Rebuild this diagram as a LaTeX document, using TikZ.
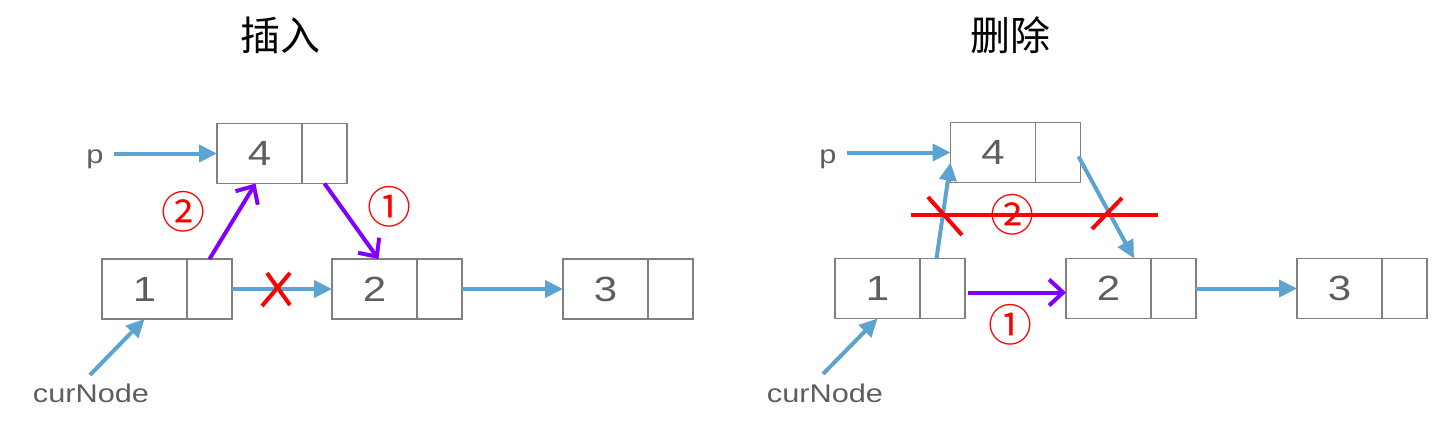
\documentclass[tikz,border=0pt]{standalone}
\usepackage{fontspec}
\setmainfont[FakeStretch=1.2]{Liberation Sans}
\newfontfamily\cjk{Noto Sans CJK SC}
\usetikzlibrary{arrows.meta,calc}
\definecolor{lblue}{HTML}{5DA3CF}
\definecolor{vio}{HTML}{7F00FF}
\definecolor{boxgray}{HTML}{808080}
\definecolor{txtgray}{HTML}{5E5E5E}
\tikzset{
 cell/.style={draw=boxgray, line width=1.8pt, minimum height=60pt, inner sep=0pt, outer sep=0pt, text=txtgray, font=\fontsize{35}{35}\selectfont},
 dcell/.style={cell, minimum width=85pt},
 pcell/.style={cell, minimum width=45pt},
 lab/.style={text=txtgray, font=\fontsize{25.6}{26}\selectfont, inner sep=0pt, anchor=base},
 blu/.style={draw=lblue, line width=4pt, -{Triangle[length=18pt,width=17pt]}},
 pur/.style={draw=vio, line width=4pt, -{Straight Barb[length=14pt,width=26pt]}},
 redl/.style={draw=red, line width=4pt},
 num/.style={text=red, font=\cjk\fontsize{44}{44}\selectfont, inner sep=0pt},
 ttl/.style={font=\cjk\fontsize{40}{40}\selectfont, inner sep=0pt},
}
\begin{document}
\begin{tikzpicture}[x=1pt,y=-1pt]
\useasboundingbox (0,0) rectangle (1450,431);
% ---------- left: insert ----------
\node[ttl] (t1) at (280,35) {插入};
\node[dcell] (L4d) at (259.5,153.5) {4};
\node[pcell,anchor=west] (L4p) at (L4d.east) {};
\node[dcell] (L1d) at (144.5,289) {1};
\node[pcell,anchor=west] (L1p) at (L1d.east) {};
\node[dcell] (L2d) at (374.5,289) {2};
\node[pcell,anchor=west] (L2p) at (L2d.east) {};
\node[dcell] (L3d) at (605.5,289) {3};
\node[pcell,anchor=west] (L3p) at (L3d.east) {};
\node[lab] (Lp) at (95,163) {p};
\node[lab] (Lcur) at (91,402) {curNode};
\coordinate (Lps) at (114,153.5);
\coordinate (Lcs) at (90,375);
\draw[blu] (Lps) -- (L4d.west);
\draw[blu] (Lcs) -- (L1d.south);
\draw[blu] (L1p.east) -- (L2d.west);
\draw[blu] (L2p.east) -- (L3d.west);
\draw[pur] (L1p.north) -- ($(L4d.south)+(-4,0)$);
\draw[pur] (L4p.south) -- ($(L2d.north)+(4,0)$);
\coordinate (Lx) at (277,289);
\draw[redl] ($(Lx)+(-10,-16)$) -- ($(Lx)+(13,16)$);
\draw[redl] ($(Lx)+(13,-16)$) -- ($(Lx)+(-15,17)$);
\node[num] (Ln2) at (183,212) {②};
\node[num] (Ln1) at (389,207) {①};
% ---------- right: delete ----------
\node[ttl] (t2) at (1010,35) {删除};
\node[dcell] (R4d) at (993,152.5) {4};
\node[pcell,anchor=west] (R4p) at (R4d.east) {};
\node[dcell] (R1d) at (877.5,288.5) {1};
\node[pcell,anchor=west] (R1p) at (R1d.east) {};
\node[dcell] (R2d) at (1108.5,288.5) {2};
\node[pcell,anchor=west] (R2p) at (R2d.east) {};
\node[dcell] (R3d) at (1339.5,288.5) {3};
\node[pcell,anchor=west] (R3p) at (R3d.east) {};
\node[lab] (Rp) at (828,163) {p};
\node[lab] (Rcur) at (825,402) {curNode};
\coordinate (Rps) at (847,152.5);
\coordinate (Rcs) at (823,374);
\draw[blu] (Rps) -- (R4d.west);
\draw[blu] (Rcs) -- (R1d.south);
\draw[blu] (R2p.east) -- (R3d.west);
\draw[blu] ($(R1p.north)+(-6,0)$) -- ($(R4d.south west)+(0,-20)$);
\draw[blu] ($(R4p.east)+(-2,4)$) -- ($(R2d.north east)+(-17,0)$);
\draw[pur] ($(R1p.east)+(3,4)$) -- ($(R2d.west)+(0,4)$);
\coordinate (Ra) at (911,215);
\coordinate (Rb) at (1158,215);
\draw[redl] (Ra) -- (Rb);
\draw[redl] (928,197) -- (962,235);
\draw[redl] (1122,198) -- (1092,229);
\node[num] (Rn2) at (1012,215) {②};
\node[num] (Rn1) at (1010,325) {①};
\end{tikzpicture}
\end{document}
